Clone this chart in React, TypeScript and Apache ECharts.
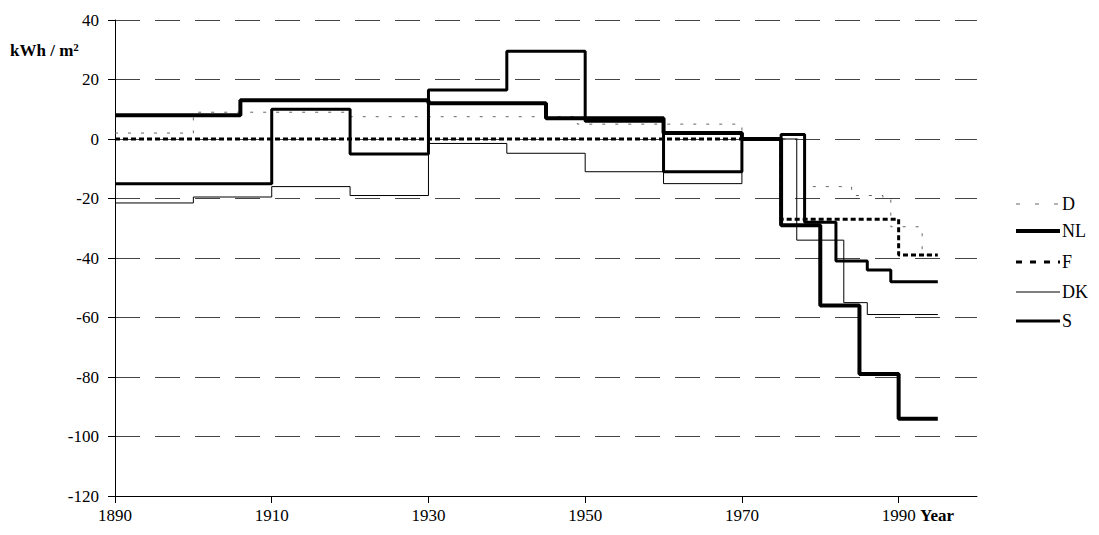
import React, { useEffect, useRef } from "react";
import * as echarts from "echarts";

const xTickYears = [1890, 1910, 1930, 1950, 1970, 1990];

const seriesNames = ["D", "NL", "F", "DK", "S"];

const dData: [number, number][] = [
  [1890, 2], [1900, 9], [1920, 7.5], [1949, 5], [1970, 0], [1978, -16],
  [1984, -19], [1988, -20], [1989, -29.5], [1993, -39], [1995, -39],
];
const nlData: [number, number][] = [
  [1890, 8], [1906, 13], [1930, 12], [1945, 7], [1960, 2], [1970, 0],
  [1975, -29], [1980, -56], [1985, -79], [1990, -94], [1995, -94],
];
const fData: [number, number][] = [
  [1890, 0], [1975, -27], [1990, -39], [1995, -39],
];
const dkData: [number, number][] = [
  [1890, -21.5], [1900, -19.5], [1910, -16], [1920, -19], [1930, -1.5],
  [1940, -4.8], [1950, -11], [1960, -15], [1970, 0], [1977, -34],
  [1983, -55], [1986, -59], [1995, -59],
];
const sData: [number, number][] = [
  [1890, -15], [1910, 10], [1920, -5], [1930, 16.5], [1940, 29.5],
  [1950, 6], [1960, -11], [1970, 0], [1975, 1.5], [1978, -28],
  [1982, -41], [1986, -44], [1989, -48], [1995, -48],
];

const FONT = "Liberation Serif";

const styles: any[] = [
  { color: "#666", width: 1, type: [3, 10] },
  { color: "#000", width: 4 },
  { color: "#000", width: 3, type: [5, 3] },
  { color: "#000", width: 1 },
  { color: "#000", width: 3 },
];
const legendDash: any[] = [[4, 15], null, [6, 8], null, null];

export default function App() {
  const ref = useRef<HTMLDivElement>(null);
  useEffect(() => {
    if (!ref.current) return;
    const chart = echarts.init(ref.current, null, { renderer: "svg" });
    const datasets = [dData, nlData, fData, dkData, sData];
    const zs = [1, 5, 3, 2, 4];
    const legendYs = [204, 231, 262, 292, 321];
    const legendItems: any[] = [];
    seriesNames.forEach((name, i) => {
      legendItems.push({
        type: "line",
        shape: { x1: 1016, y1: legendYs[i], x2: 1060, y2: legendYs[i] },
        style: {
          stroke: styles[i].color,
          lineWidth: styles[i].width,
          lineDash: legendDash[i] || undefined,
        },
      });
      legendItems.push({
        type: "text",
        x: 1062,
        y: legendYs[i],
        style: {
          text: name,
          fontFamily: FONT,
          fontSize: 18,
          fill: "#000",
          verticalAlign: "middle",
          align: "left",
        },
      });
    });
    chart.setOption({
      animation: false,
      grid: { left: 115, top: 20, width: 862, height: 476 },
      xAxis: {
        type: "value",
        min: 1890,
        max: 2000,
        axisLine: { onZero: false, lineStyle: { color: "#000", width: 1 } },
        axisTick: { show: true, customValues: xTickYears, length: 7, lineStyle: { color: "#000" } },
        axisLabel: {
          customValues: xTickYears,
          formatter: (v: number) => String(v),
          fontFamily: FONT,
          fontSize: 17,
          color: "#000",
          margin: 11,
        },
        splitLine: { show: false },
      },
      yAxis: {
        type: "value",
        min: -120,
        max: 40,
        interval: 20,
        axisLine: { show: true, lineStyle: { color: "#000", width: 1 } },
        axisTick: { show: true, length: 7, lineStyle: { color: "#000" } },
        axisLabel: {
          fontFamily: FONT,
          fontSize: 17,
          color: "#000",
          margin: 16,
        },
        splitLine: {
          show: true,
          lineStyle: { color: "#444", width: 1, type: [25, 15] },
        },
      },
      graphic: [
        {
          type: "text",
          left: 10,
          top: 41,
          style: {
            text: "{a|kWh / m}{s|2}",
            rich: {
              a: { fontFamily: FONT, fontSize: 17, fontWeight: "bold", fill: "#000" },
              s: { fontFamily: FONT, fontSize: 11, fontWeight: "bold", fill: "#000", verticalAlign: "top", padding: [0, 0, 8, 0] },
            },
          },
        },
        {
          type: "text",
          left: 920,
          top: 507,
          style: { text: "Year", fontFamily: FONT, fontSize: 17, fontWeight: "bold", fill: "#000" },
        },
        ...legendItems,
      ],
      series: seriesNames.map((name, i) => ({
        name,
        type: "line",
        data: datasets[i],
        step: "end",
        symbol: "none",
        z: zs[i],
        lineStyle: styles[i],
        itemStyle: { color: styles[i].color },
      })),
    });
    return () => chart.dispose();
  }, []);
  return (
    <div
      ref={ref}
      style={{ position: "absolute", left: 0, top: 0, width: 1099, height: 535, background: "#fff" }}
    />
  );
}
